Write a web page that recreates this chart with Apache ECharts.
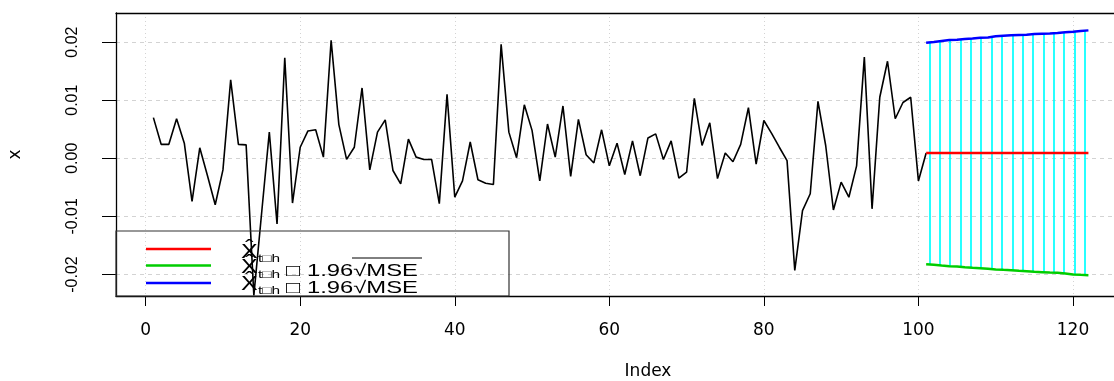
<!DOCTYPE html>
<html>
<head>
<meta charset="utf-8">
<script src="https://cdn.jsdelivr.net/npm/echarts@6/dist/echarts.min.js"></script>
<style>
html, body { margin: 0; padding: 0; background: #fff; }
#chart { width: 1114px; height: 381px; }
</style>
</head>
<body>
<div id="chart"></div>
<script>
// observed series, index 1..101
const seriesX = [
  0.0070, 0.0024, 0.0024, 0.0068, 0.0026, -0.0074, 0.0018, -0.0030, -0.0080, -0.0020,
  0.0135, 0.0024, 0.0023, -0.0236, -0.0095, 0.0045, -0.0113, 0.0173, -0.0077, 0.0019,
  0.0047, 0.0049, 0.0002, 0.0203, 0.0058, -0.0002, 0.0019, 0.0121, -0.0020, 0.0045,
  0.0066, -0.0021, -0.0044, 0.0033, 0.0002, -0.0002, -0.0002, -0.0078, 0.0110, -0.0067,
  -0.0039, 0.0028, -0.0037, -0.0043, -0.0045, 0.0196, 0.0045, 0.0001, 0.0092, 0.0048,
  -0.0039, 0.0059, 0.0002, 0.0090, -0.0031, 0.0067, 0.0006, -0.0008, 0.0049, -0.0013,
  0.0026, -0.0028, 0.0030, -0.0030, 0.0035, 0.0042, -0.0002, 0.0030, -0.0034, -0.0024,
  0.0103, 0.0022, 0.0061, -0.0035, 0.0009, -0.0006, 0.0024, 0.0087, -0.0010, 0.0065,
  0.0043, 0.0019, -0.0004, -0.0193, -0.0090, -0.0061, 0.0098, 0.0022, -0.0089, -0.0041,
  -0.0067, -0.0013, 0.0174, -0.0087, 0.0105, 0.0167, 0.0068, 0.0096, 0.0105, -0.0039,
  0.0009
];

// forecasts, index 101..122
const forecast = [
  0.0009, 0.0009, 0.0009, 0.0009, 0.0009, 0.0009, 0.0009, 0.0009, 0.0009, 0.0009, 0.0009,
  0.0009, 0.0009, 0.0009, 0.0009, 0.0009, 0.0009, 0.0009, 0.0009, 0.0009, 0.0009, 0.0009
];
const lower = [
  -0.01822, -0.01833, -0.01845, -0.01856, -0.01862, -0.01874, -0.01885, -0.01891, -0.01902, -0.01914, -0.01920,
  -0.01925, -0.01937, -0.01943, -0.01954, -0.01960, -0.01966, -0.01971, -0.01983, -0.02000, -0.02006, -0.02011
];
const upper = [
  0.01989, 0.02000, 0.02017, 0.02034, 0.02040, 0.02052, 0.02063, 0.02075, 0.02080, 0.02098, 0.02109,
  0.02115, 0.02121, 0.02126, 0.02138, 0.02144, 0.02149, 0.02155, 0.02167, 0.02178, 0.02190, 0.02201
];

// interval bars
const segX = [101.49, 102.70, 104.08, 105.50, 106.75, 108.13, 109.51, 110.81,
              112.15, 113.53, 114.78, 116.16, 117.54, 118.83, 120.17, 121.47];
const segLo = [-0.01828, -0.01839, -0.01856, -0.01862, -0.01874, -0.01885, -0.01897, -0.01914,
               -0.01920, -0.01931, -0.01943, -0.01954, -0.01966, -0.01977, -0.02000, -0.02006];
const segHi = [0.01994, 0.02011, 0.02034, 0.02046, 0.02057, 0.02075, 0.02086, 0.02103,
               0.02115, 0.02126, 0.02138, 0.02149, 0.02155, 0.02161, 0.02178, 0.02195];

const xTicks = [0, 20, 40, 60, 80, 100, 120];
const yTicks = [-0.02, -0.01, 0, 0.01, 0.02];

const chart = echarts.init(document.getElementById('chart'));

const obs = seriesX.map((v, i) => [i + 1, v]);
const fc = forecast.map((v, i) => [101 + i, v]);
const lo = lower.map((v, i) => [101 + i, v]);
const up = upper.map((v, i) => [101 + i, v]);
const bars = segX.map((x, i) => ({ coords: [[x, segLo[i]], [x, segHi[i]]] }));

const sans = '"Liberation Sans", Arial, sans-serif';
const dejavu = '"DejaVu Sans", sans-serif';
const boxLine = { show: true, onZero: false, lineStyle: { color: '#000', width: 1.3 } };

chart.setOption({
  animation: false,
  backgroundColor: '#fff',
  grid: {
    left: 116, top: 13, right: 0, height: 283,
    outerBoundsMode: 'none',
    containLabel: false
  },
  xAxis: [{
    type: 'value',
    min: -3.84,
    max: 125.31,
    axisLine: boxLine,
    axisTick: {
      show: true, inside: false, length: 10, customValues: xTicks,
      lineStyle: { color: '#000', width: 1 }
    },
    axisLabel: {
      customValues: xTicks, margin: 26, color: '#000',
      fontFamily: dejavu, fontSize: 17
    },
    splitLine: { show: true, lineStyle: { color: '#d3d3d3', width: 1, type: [1, 3] } },
    name: 'Index',
    nameLocation: 'middle',
    nameGap: 67,
    nameTextStyle: {
      color: '#000', fontFamily: dejavu, fontSize: 17,
      padding: [0, 0, 0, 66]
    }
  }, {
    // top edge of the box
    type: 'value',
    position: 'top',
    min: -3.84,
    max: 125.31,
    axisLine: boxLine,
    axisTick: { show: false },
    axisLabel: { show: false },
    splitLine: { show: false }
  }],
  yAxis: {
    type: 'value',
    min: -0.0237,
    max: 0.025,
    axisLine: boxLine,
    axisTick: {
      show: true, inside: false, length: 14, customValues: yTicks,
      lineStyle: { color: '#000', width: 1 }
    },
    axisLabel: {
      customValues: yTicks, rotate: 90, margin: 35, color: '#000',
      fontFamily: sans, fontSize: 16,
      formatter: v => v.toFixed(2)
    },
    splitLine: { show: true, lineStyle: { color: '#d3d3d3', width: 1, type: [4, 4] } },
    name: 'x',
    nameLocation: 'middle',
    nameGap: 92,
    nameRotate: 90,
    nameTextStyle: { color: '#000', fontFamily: dejavu, fontSize: 17 }
  },
  graphic: [
    { type: 'rect', z: 50, shape: { x: 116, y: 231, width: 393, height: 65 },
      style: { fill: null, stroke: '#333', lineWidth: 1.2 } },
    { type: 'line', z: 50, shape: { x1: 146, y1: 249, x2: 211, y2: 249 }, style: { stroke: '#ff0000', lineWidth: 2.5 } },
    { type: 'line', z: 50, shape: { x1: 146, y1: 265.5, x2: 211, y2: 265.5 }, style: { stroke: '#00cd00', lineWidth: 2.5 } },
    { type: 'line', z: 50, shape: { x1: 146, y1: 283, x2: 211, y2: 283 }, style: { stroke: '#0000ff', lineWidth: 2.5 } },

    { type: 'text', z: 50, x: 241, y: 252, scaleX: 1.25, style: { text: 'X\u0302', font: '20px ' + sans, fill: '#000', verticalAlign: 'middle' } },
    { type: 'text', z: 50, x: 258, y: 259, scaleX: 1.4, style: { text: 't\u25A1h', font: '11px ' + sans, fill: '#000', verticalAlign: 'middle' } },

    { type: 'text', z: 50, x: 241, y: 267, scaleX: 1.25, style: { text: 'X\u0302', font: '20px ' + sans, fill: '#000', verticalAlign: 'middle' } },
    { type: 'text', z: 50, x: 258, y: 275, scaleX: 1.4, style: { text: 't\u25A1h', font: '11px ' + sans, fill: '#000', verticalAlign: 'middle' } },
    { type: 'text', z: 50, x: 286, y: 271, scaleX: 1.4, style: { text: '\u25A1 1.96\u221AMSE', font: '17px ' + sans, fill: '#000', verticalAlign: 'middle' } },
    { type: 'line', z: 50, shape: { x1: 352, y1: 258, x2: 422, y2: 258 }, style: { stroke: '#000', lineWidth: 1 } },

    { type: 'text', z: 50, x: 241, y: 284, scaleX: 1.25, style: { text: 'X\u0302', font: '20px ' + sans, fill: '#000', verticalAlign: 'middle' } },
    { type: 'text', z: 50, x: 258, y: 291, scaleX: 1.4, style: { text: 't\u25A1h', font: '11px ' + sans, fill: '#000', verticalAlign: 'middle' } },
    { type: 'text', z: 50, x: 286, y: 288, scaleX: 1.4, style: { text: '\u25A1 1.96\u221AMSE', font: '17px ' + sans, fill: '#000', verticalAlign: 'middle' } }
  ],
  series: [
    {
      type: 'lines',
      coordinateSystem: 'cartesian2d',
      data: bars,
      lineStyle: { color: '#00ffff', width: 1.7, opacity: 1 },
      z: 2
    },
    {
      type: 'line', data: obs, symbol: 'none',
      lineStyle: { color: '#000', width: 1.6 }, z: 3
    },
    {
      type: 'line', data: fc, symbol: 'none',
      lineStyle: { color: '#ff0000', width: 2.5 }, z: 4
    },
    {
      type: 'line', data: lo, symbol: 'none',
      lineStyle: { color: '#00cd00', width: 2.5 }, z: 4
    },
    {
      type: 'line', data: up, symbol: 'none',
      lineStyle: { color: '#0000ff', width: 2.5 }, z: 4
    }
  ]
});

window.addEventListener('resize', function () {
  chart.resize();
});
</script>
</body>
</html>
